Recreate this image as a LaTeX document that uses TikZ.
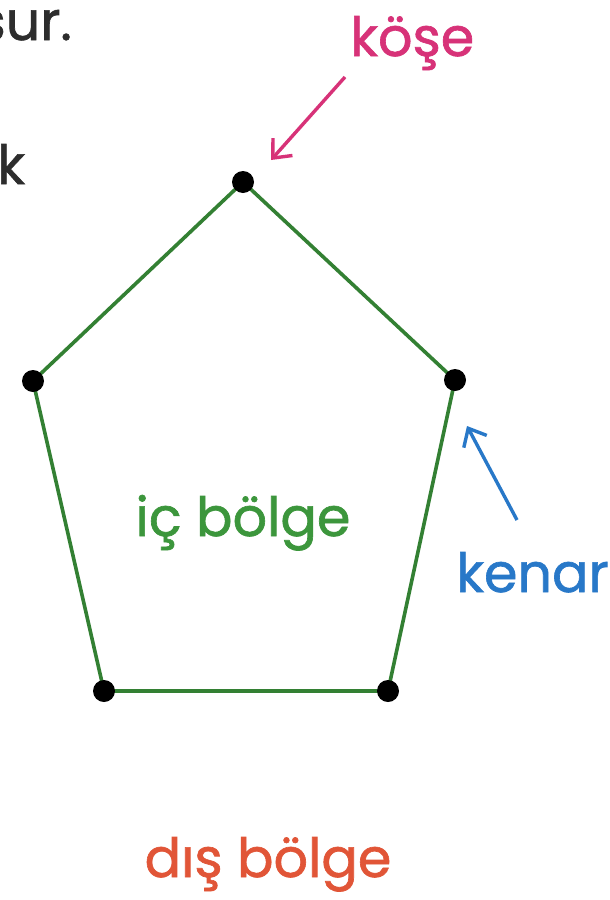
\documentclass[tikz,border=0pt]{standalone}
\usepackage{fontspec}
\setmainfont{Poppins}[FakeBold=1.2]
\usetikzlibrary{arrows.meta,calc}
\definecolor{kenarA}{RGB}{40,120,200}
\definecolor{koseA}{RGB}{215,50,120}
\definecolor{icA}{RGB}{60,150,60}
\definecolor{disA}{RGB}{225,85,55}
\definecolor{yaziA}{RGB}{45,45,45}
\tikzset{
  lbl/.style={inner sep=0pt, font=\fontsize{54}{64}\selectfont},
  edge/.style={line width=3.6pt, icA!85!black},
  ok/.style={line width=3.4pt, -{Straight Barb[length=15pt,width=26pt]}},
}

\begin{document}
\begin{tikzpicture}[x=1pt,y=-1pt]
      \useasboundingbox (0,0) rectangle (610,900);
      \fill[white] (0,0) rectangle (610,900);

      % Corners of the pentagon
      \coordinate (T) at (243,182);
      \coordinate (L) at (33,381);
      \coordinate (R) at (455,380);
      \coordinate (BL) at (104,691);
      \coordinate (BR) at (388,691);

      % Sides
      \draw[edge] (T) -- (R) -- (BR) -- (BL) -- (L) -- cycle;
      \foreach \p in {T,L,R,BL,BR}
        \fill (\p) circle (11);

      % Text cut off at the left border
      \node[lbl, yaziA, anchor=base east] (sur) at (72,40) {sur.};
      \node[lbl, yaziA, anchor=base west] (k) at (-3,184) {k};

      % Labels
      \node[lbl, koseA, anchor=base west] (kose) at (350,56) {köşe};
      \node[lbl, kenarA, anchor=base west] (kenar) at (456,592) {kenar};
      \node[lbl, icA, anchor=base] (ic) at (243,536) {iç bölge};
      \node[lbl, disA, anchor=base] (dis) at (268,877) {dış bölge};

      % Arrows
      \coordinate (koseU) at (345,77);
      \coordinate (koseV) at (271,160);
      \draw[ok, koseA] (koseU) -- (koseV);
      \coordinate (kenarU) at (517,520);
      \coordinate (kenarV) at (467,426);
      \draw[ok, kenarA] (kenarU) -- (kenarV);
    \end{tikzpicture}
\end{document}
